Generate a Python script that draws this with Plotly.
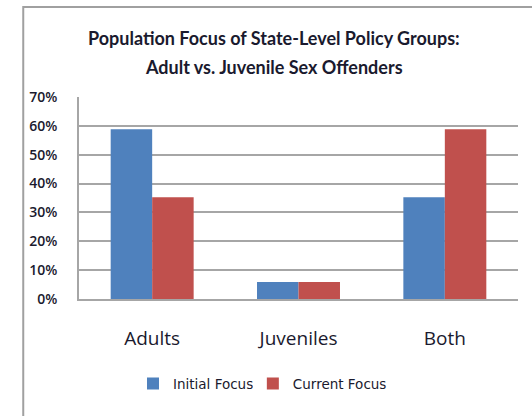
import plotly.graph_objects as go

# Share of state-level policy groups by population focus
categories = ["Adults", "Juveniles", "Both"]
initial_focus = [10 / 17, 1 / 17, 6 / 17]
current_focus = [6 / 17, 1 / 17, 10 / 17]
y_ticks = [0, 0.1, 0.2, 0.3, 0.4, 0.5, 0.6, 0.7]
title_lines = ["Population Focus of State-Level Policy Groups:",
               "Adult vs. Juvenile Sex Offenders"]

text_color = "#1a1a2e"
grid_color = "#a6a6a6"

fig = go.Figure()
fig.add_trace(go.Bar(name="Initial Focus", x=categories, y=initial_focus,
                     marker=dict(color="#4F81BD", line=dict(width=0)),
                     legend="legend"))
fig.add_trace(go.Bar(name="Current Focus", x=categories, y=current_focus,
                     marker=dict(color="#C0504D", line=dict(width=0)),
                     legend="legend2"))

# Two-line title as separate annotations for tighter control of line spacing
title_font = dict(family="Lato", size=18, color=text_color, weight="bold")
annotations = [
    dict(text=title_lines[0], xref="paper", yref="paper", x=0.445, y=1.29,
         xanchor="center", yanchor="middle", showarrow=False, font=title_font),
    dict(text=title_lines[1], xref="paper", yref="paper", x=0.445, y=1.15,
         xanchor="center", yanchor="middle", showarrow=False, font=title_font),
]

legend_font = dict(family="DejaVu Sans", size=13.5, color=text_color)

fig.update_layout(
    width=532, height=416,
    margin=dict(l=79, r=14, t=97, b=117),
    paper_bgcolor="white", plot_bgcolor="white",
    barmode="group", bargap=0.433, bargroupgap=0,
    annotations=annotations,
    font=dict(family="Open Sans", color=text_color),
    showlegend=True,
    legend=dict(orientation="h", x=0.123, xanchor="left", y=-0.42, yanchor="middle",
                font=legend_font, itemwidth=30),
    legend2=dict(orientation="h", x=0.396, xanchor="left", y=-0.42, yanchor="middle",
                 font=legend_font, itemwidth=30),
    shapes=[dict(type="rect", xref="paper", yref="paper",
                 x0=-0.127, x1=1.2, y0=-1.0, y1=1.446,
                 line=dict(color="#a0a0a0", width=2), layer="below")],
)

fig.update_yaxes(
    range=[0, 0.7], tickvals=y_ticks, tickformat=".0%",
    showgrid=True, gridcolor=grid_color, gridwidth=1.5,
    showline=True, linecolor=grid_color, linewidth=1.5,
    zeroline=False, ticks="", ticklabelstandoff=17,
    tickfont=dict(family="Open Sans", size=14, color=text_color, weight=600),
)
fig.update_xaxes(
    showline=True, linecolor=grid_color, linewidth=1.5,
    ticks="", ticklabelstandoff=21,
    tickfont=dict(family="Open Sans", size=19, color=text_color),
)

fig.write_html("out.html")
